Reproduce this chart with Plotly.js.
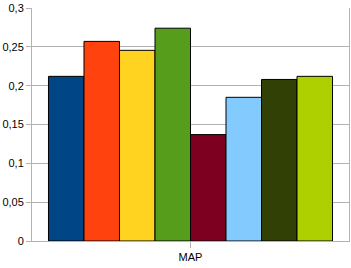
<!DOCTYPE html>
<html><head><meta charset="utf-8">
<script src="https://cdn.plot.ly/plotly-3.0.1.min.js"></script>
<style>html,body{margin:0;padding:0;background:#fff}#chart{width:351px;height:268px}</style>
</head><body><div id="chart"></div>
<script>
var categories = ["MAP"];
var seriesNames = ["S1","S2","S3","S4","S5","S6","S7","S8"];
var seriesValues = [0.212, 0.257, 0.2455, 0.274, 0.137, 0.185, 0.208, 0.212];
var seriesColors = ["#004586","#ff420e","#ffd320","#579d1c","#7e0021","#83caff","#314004","#aecf00"];
var yTicks = [0, 0.05, 0.1, 0.15, 0.2, 0.25, 0.3];

var traces = seriesValues.map(function(v, i){
  return {type:'bar', name: seriesNames[i], x: categories, y: [v],
    marker:{color: seriesColors[i], line:{color:'#000', width:1}}, hoverinfo:'none'};
});
var layout = {
  width:351, height:268,
  margin:{l:32, r:2, t:8, b:27},
  paper_bgcolor:'#fff', plot_bgcolor:'#fff',
  showlegend:false, barmode:'group', bargap:0.104, bargroupgap:0,
  separators:', ',
  font:{family:'Liberation Sans, Arial, sans-serif', size:11, color:'#000'},
  xaxis:{showgrid:false, showline:true, linecolor:'#b3b3b3', linewidth:1,
    ticks:'outside', ticklen:6, tickcolor:'#b3b3b3', zeroline:false, fixedrange:true},
  yaxis:{range:[0,0.3], tickvals:yTicks, ticktext: yTicks.map(function(t){return String(t).replace('.',',');}),
    showgrid:true, gridcolor:'#b3b3b3', gridwidth:1, showline:true, mirror:true, linecolor:'#b3b3b3',
    ticks:'outside', ticklen:5, tickcolor:'#b3b3b3', zeroline:false, fixedrange:true}
};
Plotly.newPlot('chart', traces, layout, {staticPlot:true, displayModeBar:false});
</script></body></html>
